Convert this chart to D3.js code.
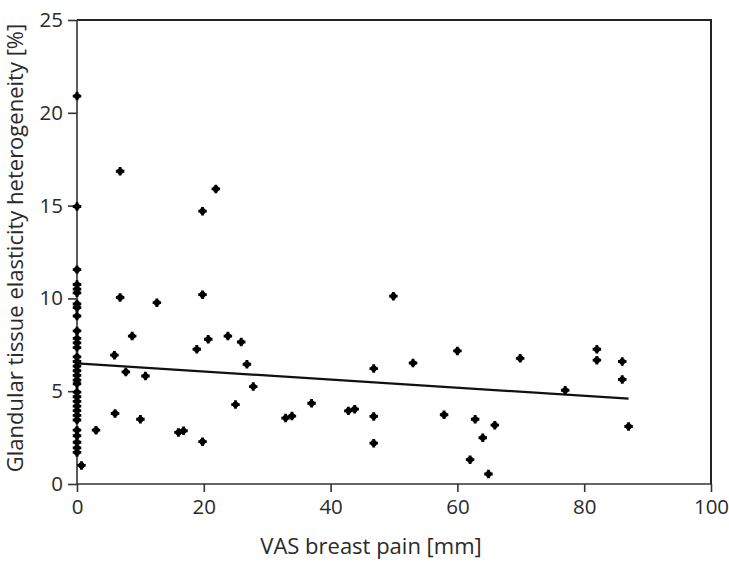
<!DOCTYPE html>
<html><head><meta charset="utf-8">
<script src="https://cdn.jsdelivr.net/npm/d3@7"></script>
<style>
html,body{margin:0;padding:0;background:#fff;}
svg text{font-family:"Open Sans",sans-serif;fill:#2a2a2a;font-weight:400;}
</style></head>
<body><svg id="c" width="729" height="563"></svg>
<script>
// VAS breast pain [mm]
const painX = [
  0,0,0,0,0,0,0,0,0,0,0,0,0,0,0,0,0,0,0,0,0,0,0,0,0,0,0,0,0,0,0,0,
  0.7,3,6.8,12.6,8.7,5.9,7.7,10.8,6,10,6.8,21.9,19.8,19.8,20.7,18.9,23.8,25.9,26.8,27.8,25,16,16.8,19.8,
  32.9,33.9,37,42.8,43.8,49.9,46.8,53,60,69.9,46.8,46.8,57.9,62.8,65.9,64,62,64.9,82,82,86,86,77,87
];
// Glandular tissue elasticity heterogeneity [%]
const heteroY = [
  20.9,14.95,11.55,10.75,10.5,10.3,9.7,9.5,9.05,8.25,7.85,7.6,7.35,6.85,6.6,6.35,6.1,5.85,5.6,5.4,4.95,4.7,4.45,4.2,3.95,3.7,3.45,2.9,2.6,2.25,1.95,1.7,
  1.0,2.9,10.05,9.77,7.97,6.94,6.04,5.82,3.8,3.49,16.85,15.9,14.7,10.2,7.8,7.26,7.97,7.65,6.45,5.25,4.28,2.78,2.87,2.28,
  3.55,3.66,4.35,3.94,4.03,10.12,6.22,6.52,7.17,6.77,3.64,2.2,3.73,3.49,3.17,2.49,1.31,0.54,7.26,6.67,6.6,5.63,5.05,3.1
];
const fitX = [0, 87];
const fitY = [6.5, 4.6];
const xTicks = [0,20,40,60,80,100];
const yTicks = [0,5,10,15,20,25];

const svg = d3.select("#c");
const x = d3.scaleLinear().domain([0,100]).range([77,711]);
const y = d3.scaleLinear().domain([0,25]).range([484,20]);

// frame (top & right)
svg.append("path").attr("d",`M${x(0)},${y(25)}H${x(100)}V${y(0)}`)
  .attr("fill","none").attr("stroke","#222").attr("stroke-width",2);

const xa = svg.append("g").attr("transform",`translate(0,${y(0)})`)
  .call(d3.axisBottom(x).tickValues(xTicks).tickSize(8).tickPadding(7).tickFormat(d3.format("d")));
const ya = svg.append("g").attr("transform",`translate(${x(0)},0)`)
  .call(d3.axisLeft(y).tickValues(yTicks).tickSize(9).tickPadding(5).tickFormat(d3.format("d")));
[xa,ya].forEach(g=>{
  g.select(".domain").attr("stroke","#333").attr("stroke-width",1.6);
  g.selectAll(".tick line").attr("stroke","#333").attr("stroke-width",1.6);
  g.selectAll(".tick text").attr("font-size",20.5).attr("font-family","Open Sans, sans-serif")
    .attr("font-weight",400).attr("fill","#2a2a2a");
});
ya.select(".domain").attr("d",`M0,${y(25)}V${y(0)}`);
xa.select(".domain").attr("d",`M${x(0)},0H${x(100)}`);

// regression line
svg.append("line")
  .attr("x1",x(fitX[0])).attr("y1",y(fitY[0]))
  .attr("x2",x(fitX[1])).attr("y2",y(fitY[1]))
  .attr("stroke","#111").attr("stroke-width",2.2);

// points
const sym = d3.symbol().type(d3.symbolCross).size(40);
const g = svg.append("g");
painX.forEach((px,i)=>{
  const cx = x(px), cy = y(heteroY[i]);
  g.append("path").attr("d",sym()).attr("transform",`translate(${cx},${cy})`).attr("fill","#000");
  g.append("circle").attr("cx",cx).attr("cy",cy).attr("r",3.1).attr("fill","#000");
});

// titles
svg.append("text").attr("x",371).attr("y",554).attr("text-anchor","middle")
  .attr("font-size",22).text("VAS breast pain [mm]");
svg.append("text").attr("transform","translate(23,248) rotate(-90)").attr("text-anchor","middle")
  .attr("font-size",22).text("Glandular tissue elasticity heterogeneity [%]");
</script></body></html>
